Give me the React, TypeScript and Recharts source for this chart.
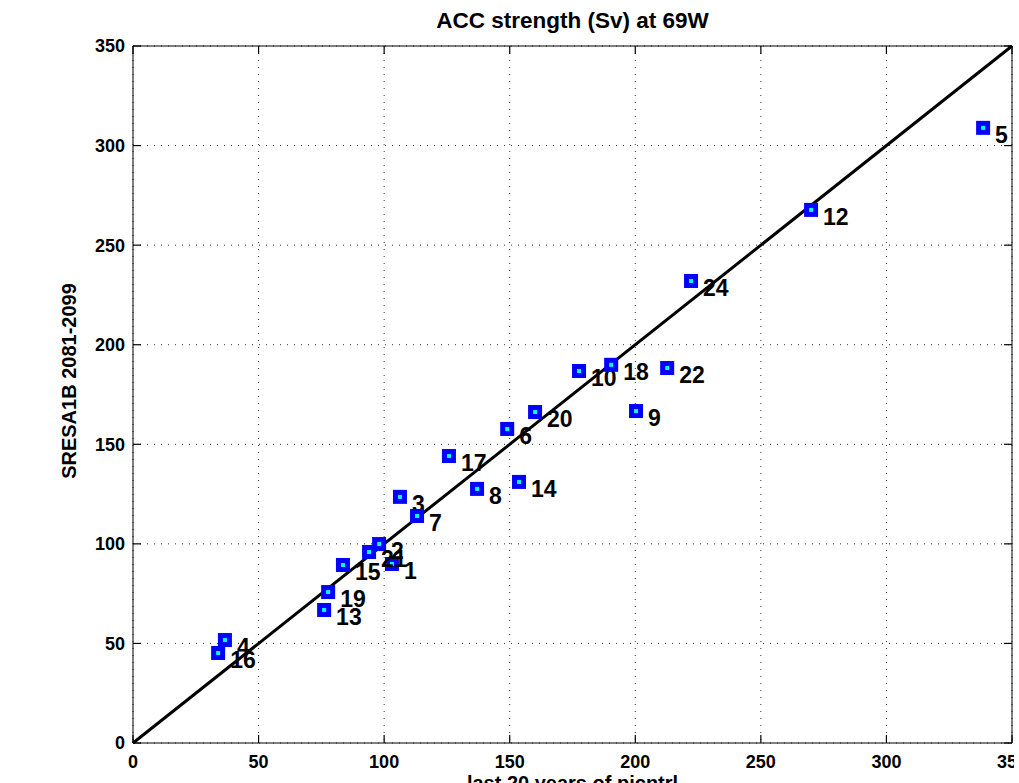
import { CartesianGrid, Label, Scatter, ScatterChart, XAxis, YAxis } from 'recharts';

const MODEL_IDS = ['1', '2', '3', '4', '5', '6', '7', '8', '9', '10', '12', '13', '14', '15', '16', '17', '18', '19', '20', '21', '22', '24'];
const PICNTRL = [103.1, 98, 106.3, 36.6, 338.5, 149, 113.1, 137, 200.3, 177.6, 270, 76.1, 153.7, 83.6, 33.9, 125.8, 190.4, 77.7, 160.1, 94, 212.7, 222.2];
const SRESA1B = [89.9, 99.9, 123.6, 51.7, 308.9, 157.7, 114, 127.6, 166.7, 186.8, 267.7, 66.8, 131.1, 89.4, 45.2, 144.1, 189.9, 75.8, 166.2, 95.9, 188.3, 232];
const TICKS = [0, 50, 100, 150, 200, 250, 300, 350];
const ONE_TO_ONE = [0, 350];

const FONT = 'Liberation Sans, Arial, Helvetica, sans-serif';
const TICK_LEN = 8;
const X_GAP = 12;
const Y_GAP = 8;

const points = MODEL_IDS.map((id, i) => ({ id, x: PICNTRL[i], y: SRESA1B[i] }));
const diagonal = ONE_TO_ONE.map((v) => ({ x: v, y: v }));

function ModelMarker(props: any) {
  const { cx, cy, payload } = props;
  if (cx == null || cy == null) return null;
  return (
    <g>
      <rect x={cx - 7} y={cy - 7} width={14} height={14} fill="#0000ff" />
      <rect x={cx - 2} y={cy - 2} width={4} height={4} fill="#00ffff" />
      <text x={cx + 12} y={cy + 15} fontSize={23} fontWeight="bold" fontFamily={FONT} fill="#000">
        {payload.id}
      </text>
    </g>
  );
}

// bottom axis: label below, tick mark pointing inward
function BottomTick(props: any) {
  const { x, y, payload } = props;
  const base = y - X_GAP;
  return (
    <g>
      <path d={`M${x},${base}V${base - TICK_LEN}`} stroke="#000" strokeWidth={1.2} fill="none" />
      <text x={x} y={y} dy="0.71em" textAnchor="middle" fontSize={18} fontWeight="bold" fontFamily={FONT} fill="#000">
        {payload.value}
      </text>
    </g>
  );
}

function LeftTick(props: any) {
  const { x, y, payload } = props;
  const base = x + Y_GAP;
  return (
    <g>
      <path d={`M${base},${y}H${base + TICK_LEN}`} stroke="#000" strokeWidth={1.2} fill="none" />
      <text x={x} y={y} dy="0.355em" textAnchor="end" fontSize={18} fontWeight="bold" fontFamily={FONT} fill="#000">
        {payload.value}
      </text>
    </g>
  );
}

function TopTick(props: any) {
  const { x, y } = props;
  return <path d={`M${x},${y}V${y + TICK_LEN}`} stroke="#000" strokeWidth={1.2} fill="none" />;
}

function RightTick(props: any) {
  const { x, y } = props;
  return <path d={`M${x},${y}H${x - TICK_LEN}`} stroke="#000" strokeWidth={1.2} fill="none" />;
}

export default function App() {
  return (
    <div style={{ position: 'absolute', left: 0, top: 0, width: 1019, height: 783, overflow: 'hidden', background: '#fff' }}>
      <ScatterChart width={1014} height={783} margin={{ top: 46, right: 2, left: 73, bottom: 0 }}>
        <CartesianGrid stroke="#333" strokeDasharray="1 6" />
        <XAxis
          type="number"
          dataKey="x"
          domain={[0, 350]}
          ticks={TICKS}
          interval={0}
          height={40}
          tickLine={false}
          tickSize={0}
          tickMargin={X_GAP}
          tick={BottomTick}
          stroke="#000"
          allowDataOverflow
        >
          <Label
            content={({ viewBox }: any) => (
              <text x={viewBox.x + viewBox.width / 2} y={790} textAnchor="middle" fontSize={20} fontWeight="bold" fontFamily={FONT} fill="#000">
                last 20 years of picntrl
              </text>
            )}
          />
        </XAxis>
        <YAxis
          type="number"
          dataKey="y"
          domain={[0, 350]}
          ticks={TICKS}
          interval={0}
          width={60}
          tickLine={false}
          tickSize={0}
          tickMargin={Y_GAP}
          tick={LeftTick}
          stroke="#000"
          allowDataOverflow
        >
          <Label
            content={({ viewBox }: any) => (
              <text
                x={0}
                y={0}
                transform={`translate(${viewBox.x + 3}, 381) rotate(-90)`}
                textAnchor="middle"
                fontSize={20}
                fontWeight="bold"
                fontFamily={FONT}
                fill="#000"
              >
                SRESA1B 2081-2099
              </text>
            )}
          />
        </YAxis>
        <XAxis
          xAxisId="tp"
          orientation="top"
          mirror
          type="number"
          dataKey="x"
          domain={[0, 350]}
          ticks={TICKS}
          interval={0}
          height={1}
          tickLine={false}
          tickSize={0}
          tickMargin={0}
          tick={TopTick}
          stroke="#000"
        >
          <Label
            content={({ viewBox }: any) => (
              <text x={viewBox.x + viewBox.width / 2} y={28} textAnchor="middle" fontSize={22.5} fontWeight="bold" fontFamily={FONT} fill="#000">
                ACC strength (Sv) at 69W
              </text>
            )}
          />
        </XAxis>
        <YAxis
          yAxisId="rt"
          orientation="right"
          mirror
          type="number"
          dataKey="y"
          domain={[0, 350]}
          ticks={TICKS}
          interval={0}
          width={1}
          tickLine={false}
          tickSize={0}
          tickMargin={0}
          tick={RightTick}
          stroke="#000"
        />
        <Scatter
          data={diagonal}
          xAxisId="tp"
          yAxisId="rt"
          line={{ stroke: '#000', strokeWidth: 3 }}
          shape={() => <g />}
          isAnimationActive={false}
        />
        <Scatter data={points} shape={ModelMarker} isAnimationActive={false} />
      </ScatterChart>
    </div>
  );
}
